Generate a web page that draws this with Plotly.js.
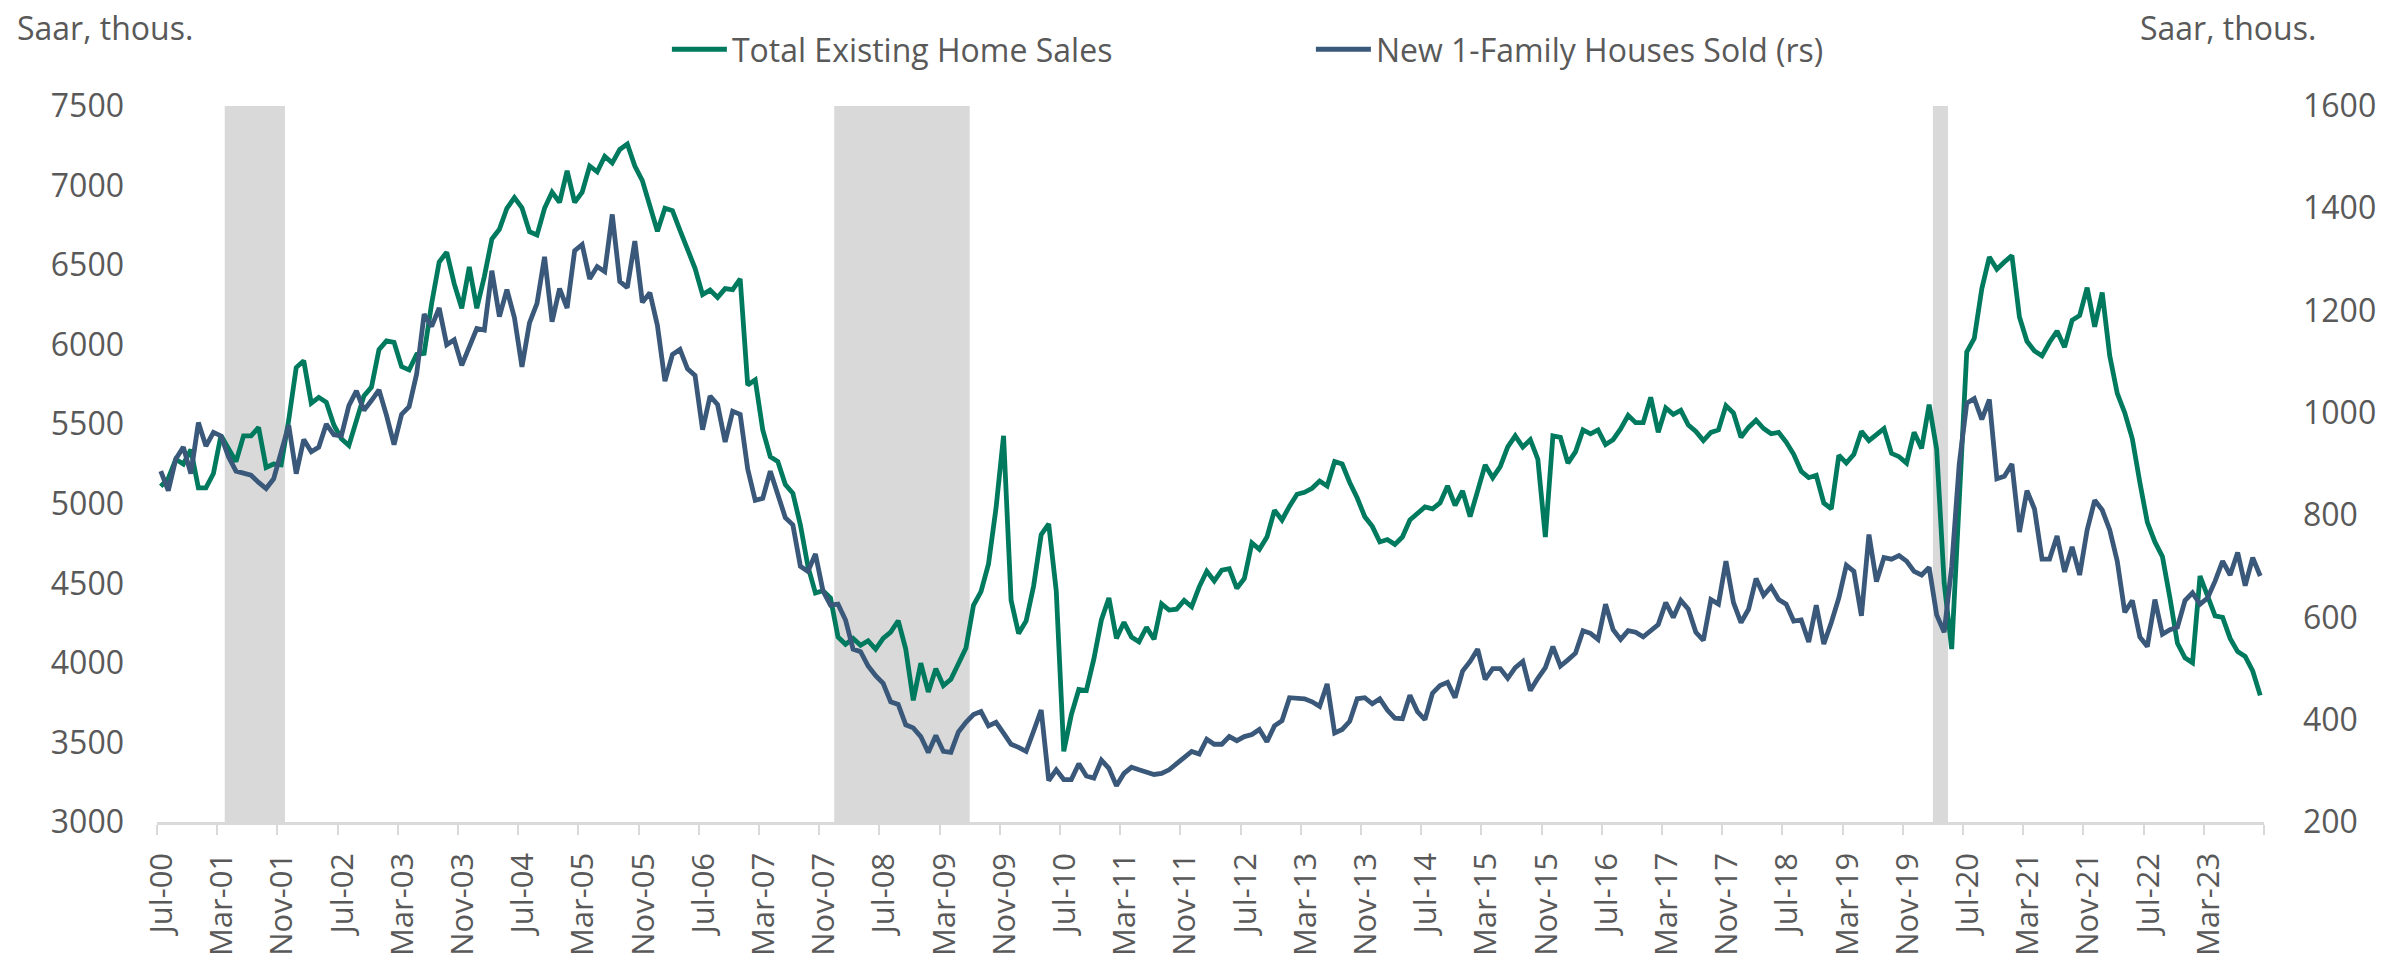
<!DOCTYPE html>
<html>
<head>
<meta charset="utf-8">
<script src="https://cdn.plot.ly/plotly-3.0.1.min.js"></script>
<style>
  html, body { margin: 0; padding: 0; background: #ffffff; }
  #chart { width: 2381px; height: 960px; }
</style>
</head>
<body>
<div id="chart"></div>
<script>
// ---- Categories: monthly, Jul-00 .. Oct-23 ----
const monthNames = ['Jan','Feb','Mar','Apr','May','Jun','Jul','Aug','Sep','Oct','Nov','Dec'];
const startYear = 2000, startMonth = 6, monthCount = 280; // Jul-00, 280 months
const categories = [];
for (let i = 0; i < monthCount; i++) {
  const m = (startMonth + i) % 12;
  const y = startYear + Math.floor((startMonth + i) / 12);
  categories.push(monthNames[m] + '-' + String(y % 100).padStart(2, '0'));
}

// ---- Series (Saar, thous.) ----
const existingHomeSales = [
  5110,5160,5280,5250,5340,5100,5100,5190,5430,5340,5265,5427,
  5427,5480,5228,5250,5244,5525,5856,5899,5632,5669,5638,5495,
  5409,5366,5525,5678,5733,5969,6024,6015,5862,5841,5939,5945,
  6260,6520,6581,6382,6229,6489,6229,6428,6664,6725,6857,6924,
  6860,6710,6689,6857,6958,6894,7093,6894,6958,7123,7086,7184,
  7142,7227,7261,7123,7031,6872,6713,6857,6842,6719,6597,6480,
  6315,6343,6297,6352,6346,6413,5746,5779,5464,5296,5265,5121,
  5066,4867,4607,4439,4454,4408,4163,4117,4154,4111,4139,4087,
  4154,4194,4265,4087,3765,3998,3817,3964,3857,3897,3995,4093,
  4362,4448,4622,4974,5427,4393,4185,4264,4485,4806,4873,4454,
  3444,3673,3833,3826,4025,4270,4408,4154,4255,4163,4133,4224,
  4148,4371,4332,4338,4393,4353,4478,4576,4515,4583,4592,4469,
  4531,4754,4714,4791,4959,4898,4985,5060,5072,5097,5143,5112,
  5265,5250,5134,5036,4919,4858,4760,4775,4745,4791,4898,4938,
  4980,4968,5005,5112,4990,5081,4919,5081,5244,5164,5234,5357,
  5427,5357,5403,5280,4791,5427,5418,5256,5326,5464,5440,5464,
  5372,5403,5470,5556,5510,5510,5669,5449,5602,5562,5587,5495,
  5455,5397,5449,5464,5617,5571,5418,5480,5525,5473,5440,5449,
  5388,5311,5204,5164,5179,5005,4968,5305,5256,5311,5455,5397,
  5440,5473,5317,5296,5256,5449,5348,5623,5342,4500,4087,5000,
  5954,6040,6352,6551,6474,6520,6560,6174,6021,5960,5930,6015,
  6085,5984,6153,6183,6358,6113,6327,5930,5694,5571,5409,5134,
  4883,4760,4668,4408,4123,4032,4001,4546,4423,4295,4286,4154,
  4071,4041,3949,3796
];

const newHomeSales = [
  886,848,910,933,881,981,935,962,955,914,886,881,
  878,864,852,871,924,976,881,948,924,933,978,957,
  955,1014,1043,1005,1024,1045,995,938,997,1012,1076,1193,
  1169,1205,1133,1143,1093,1129,1165,1162,1278,1188,1241,1186,
  1090,1176,1214,1305,1178,1243,1205,1317,1329,1262,1286,1276,
  1388,1257,1245,1336,1216,1235,1171,1062,1114,1124,1086,1073,
  967,1033,1016,943,1003,997,890,829,833,886,843,795,
  781,700,690,724,652,624,626,595,538,533,505,486,
  471,435,430,390,384,367,336,369,338,336,376,395,
  410,416,388,395,374,352,346,338,378,419,281,302,
  283,283,314,290,286,321,305,271,295,307,302,298,
  293,295,302,314,327,338,333,362,352,352,367,359,
  367,371,381,357,388,398,443,443,441,435,426,470,
  374,381,397,441,443,431,441,419,403,402,448,416,
  400,452,467,473,443,495,514,538,479,500,500,481,
  502,514,457,481,502,543,505,517,530,574,569,557,
  626,576,557,574,571,562,574,586,629,600,633,616,
  571,555,635,626,710,629,590,616,676,643,660,635,
  626,593,595,552,624,548,590,638,702,690,603,762,
  670,717,714,721,710,690,683,698,605,571,700,900,
  1019,1028,987,1026,871,876,900,767,848,812,714,714,
  759,689,738,683,771,829,810,771,710,610,633,562,
  543,635,567,576,581,633,648,626,638,671,710,683,
  727,662,717,681
];

// Recession months (shaded), first and last shaded month
const recessions = [['Apr-01','Nov-01'], ['Jan-08','Jun-09'], ['Mar-20','Apr-20']];

const seriesNames = ['Total Existing Home Sales', 'New 1-Family Houses Sold (rs)'];
const unitLabel = 'Saar, thous.';
const labelEvery = 8;

// ---- Build ----
const xIdx = categories.map((_, i) => i);
const tickvals = [], ticktext = [];
for (let i = 0; i <= categories.length; i += labelEvery) {
  tickvals.push(i - 0.5);
  ticktext.push(i < categories.length ? categories[i] : '');
}

const FONT = 'Open Sans, Noto Sans, sans-serif';
const TXT = '#595959';

const traces = [
  { x: xIdx, y: existingHomeSales, name: seriesNames[0], type: 'scatter', mode: 'lines',
    line: { color: '#007a5e', width: 4.8 }, yaxis: 'y', text: categories, hoverinfo: 'text+y' },
  { x: xIdx, y: newHomeSales, name: seriesNames[1], type: 'scatter', mode: 'lines',
    line: { color: '#3a587a', width: 4.8 }, yaxis: 'y2', text: categories, hoverinfo: 'text+y' }
];

const shapes = recessions.map(r => ({
  type: 'rect', xref: 'x', yref: 'paper',
  x0: categories.indexOf(r[0]) - 0.5, x1: categories.indexOf(r[1]) + 0.5,
  y0: 0, y1: 1, fillcolor: '#d9d9d9', line: { width: 0 }, layer: 'below'
}));

const layout = {
  width: 2381, height: 960,
  margin: { l: 157, r: 117, t: 106, b: 138, pad: 0 },
  paper_bgcolor: '#ffffff', plot_bgcolor: '#ffffff',
  font: { family: FONT, size: 32, color: TXT },
  showlegend: true,
  legend: {
    orientation: 'h', x: 0.242, xanchor: 'left', y: 1.079, yanchor: 'middle',
    font: { family: FONT, size: 32, color: TXT },
    itemwidth: 55,
    entrywidth: 574, entrywidthmode: 'pixels', bgcolor: 'rgba(0,0,0,0)'
  },
  xaxis: {
    type: 'linear', range: [-0.5, categories.length - 0.5],
    tickmode: 'array', tickvals: tickvals, ticktext: ticktext,
    tickangle: -90, ticks: 'outside', ticklen: 10, tickwidth: 2, tickcolor: '#d9d9d9',
    ticklabelshift: 5, ticklabelstandoff: 6,
    showline: true, linecolor: '#d9d9d9', linewidth: 2.5,
    showgrid: false, zeroline: false,
    tickfont: { family: FONT, size: 31, color: TXT }
  },
  yaxis: {
    range: [3000, 7500], dtick: 500, tick0: 3000, showgrid: false, zeroline: false,
    showline: false, ticks: '', ticklabelstandoff: 32,
    tickfont: { family: FONT, size: 32, color: TXT }
  },
  yaxis2: {
    range: [200, 1600], dtick: 200, tick0: 200, overlaying: 'y', side: 'right',
    showgrid: false, zeroline: false, showline: false, ticks: '', ticklabelstandoff: 38,
    tickfont: { family: FONT, size: 32, color: TXT }
  },
  shapes: shapes,
  annotations: [
    { text: unitLabel, xref: 'paper', yref: 'paper', x: -0.0674, y: 1.110,
      xanchor: 'left', yanchor: 'middle', showarrow: false, font: { family: FONT, size: 32, color: TXT } },
    { text: unitLabel, xref: 'paper', yref: 'paper', x: 0.9402, y: 1.110,
      xanchor: 'left', yanchor: 'middle', showarrow: false, font: { family: FONT, size: 32, color: TXT } }
  ]
};

Plotly.newPlot('chart', traces, layout, { displayModeBar: false, staticPlot: true });
</script>
</body>
</html>
